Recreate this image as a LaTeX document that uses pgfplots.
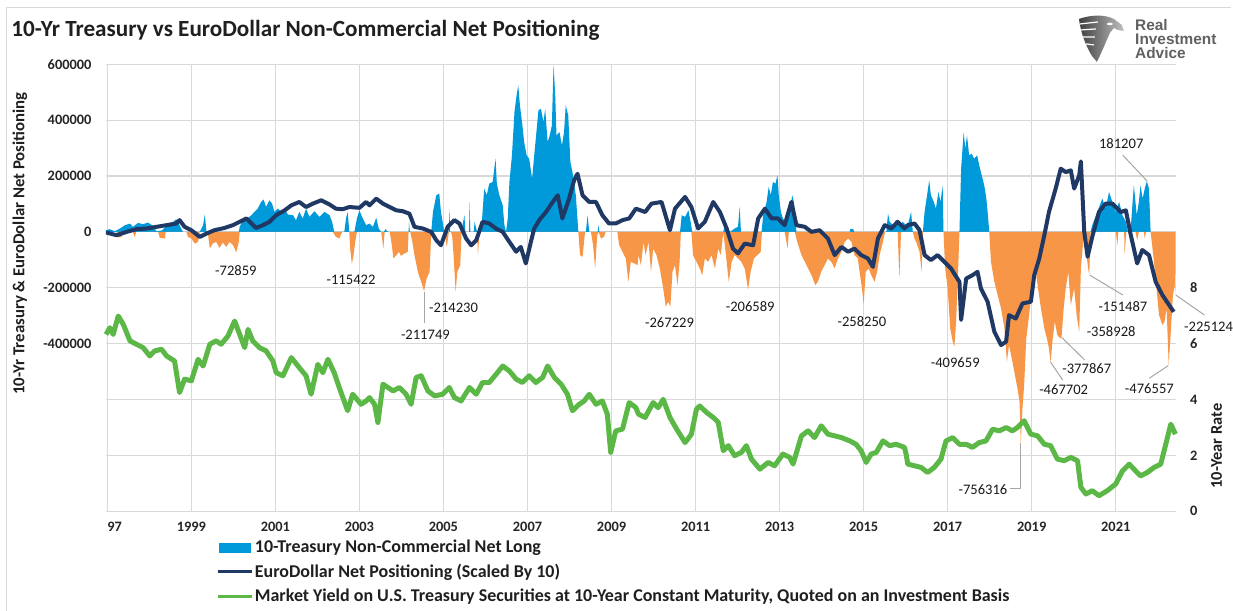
\documentclass[border=0pt]{standalone}
\usepackage{fontspec}
\setmainfont{Carlito}
\newfontfamily\logofont{Liberation Sans}
\usepackage{pgfplots}
\pgfplotsset{compat=1.18}
\definecolor{tblue}{RGB}{0,153,218}
\definecolor{torange}{RGB}{247,150,70}
\definecolor{navy}{RGB}{31,56,100}
\definecolor{ygreen}{RGB}{92,184,70}
\definecolor{gridc}{RGB}{217,217,217}
\definecolor{lead}{RGB}{166,166,166}
\begin{document}
\begin{tikzpicture}
\begin{scope}[x=0.5pt,y=-0.5pt]
\path[use as bounding box, fill=white] (0,0) rectangle (1233,612);
\draw[gridc, line width=0.5pt] (7,612) -- (7,8) -- (1233,8);
\node[anchor=west, font=\bfseries\fontsize{11.6pt}{13pt}\selectfont, text=black!88, inner sep=0pt] at (11,30) {10-Yr Treasury vs EuroDollar Non-Commercial Net Positioning};
% logo
\shade[left color=black!75, right color=black!25] (1081,19) .. controls (1092,15) and (1106,14) .. (1116,19) -- (1124,25) -- (1126,31) -- (1120,30) -- (1116,28) -- (1112,33) .. controls (1108,42) and (1104,52) .. (1099,62) -- (1094,56) .. controls (1088,46) and (1083,34) .. cycle;
\draw[white, line width=0.6pt] (1082,24) -- (1100,22) (1083,30) -- (1098,29) (1085,37) -- (1097,37) (1088,44) -- (1096,45);
\fill[white] (1112,24) ellipse (3 and 1.3);
\node[anchor=west, inner sep=0pt, font=\logofont\bfseries\fontsize{7.7pt}{7pt}\selectfont, text=black!62, align=left] at (1137,25) {Real};
\node[anchor=west, inner sep=0pt, font=\logofont\bfseries\fontsize{7.7pt}{7pt}\selectfont, text=black!62, align=left] at (1137,39.5) {Investment};
\node[anchor=west, inner sep=0pt, font=\logofont\bfseries\fontsize{7.7pt}{7pt}\selectfont, text=black!62, align=left] at (1137,53) {Advice};
% axis titles
\node[rotate=90, inner sep=0pt, font=\bfseries\fontsize{8.4pt}{10pt}\selectfont, text=black!88] at (20,244) {10-Yr Treasury \& EuroDollar Net Positioning};
\node[rotate=90, inner sep=0pt, font=\bfseries\fontsize{8.2pt}{10pt}\selectfont, text=black!88] at (1219,447) {10-Year Rate};
\end{scope}

\begin{axis}[at={(53pt,-256.15pt)}, anchor=south west, scale only axis,
  width=536pt, height=224pt,
  xmin=1996.964, xmax=2022.428, ymin=-1000000, ymax=600000,
  axis line style={draw=none}, tick style={draw=none},
  xtick={1997,1999,...,2021},
  xticklabels={\phantom{19}97,1999,2001,2003,2005,2007,2009,2011,2013,2015,2017,2019,2021},
  ytick={-1000000,-800000,-600000,-400000,-200000,0,200000,400000,600000},
  yticklabels={{},{},{},-400000,-200000,0,200000,400000,600000},
  scaled y ticks=false,
  grid=major, major grid style={gridc, line width=0.55pt},
  ticklabel style={font=\bfseries\fontsize{7.2pt}{8pt}\selectfont, text=black!85},
  xticklabel style={anchor=north, inner sep=0pt, yshift=-5pt},
  yticklabel style={anchor=east, inner sep=0pt, xshift=-7pt},
  clip=false, line join=round]

\addplot[fill=tblue, draw=none] coordinates {
(1996.965,0)(1996.97,6000)(1997.06,9500)(1997.18,2400)(1997.30,11900)(1997.42,23800)(1997.54,29800)(1997.61,17900)(1997.73,32100)(1997.85,27400)(1997.97,33300)(1998.09,21400)(1998.17,2400)(1998.30,5000)(1998.41,21400)(1998.52,29800)(1998.64,45200)(1998.72,23800)(1998.80,0)
(1999.20,0)(1999.28,23800)(1999.32,61900)(1999.36,0)
(2000.13,0)(2000.15,17900)(2000.23,41700)(2000.35,50000)(2000.43,59500)(2000.50,71400)(2000.58,83300)(2000.66,107100)(2000.72,115500)(2000.78,89300)(2000.86,113100)(2000.92,101200)(2000.98,71400)(2001.06,83300)(2001.14,71400)(2001.22,81000)(2001.30,61900)(2001.42,59500)(2001.49,41700)(2001.57,71400)(2001.65,47600)(2001.73,83300)(2001.81,53600)(2001.93,73800)(2002.05,53600)(2002.17,71400)(2002.29,59500)(2002.35,35700)(2002.40,0)
(2002.64,0)(2002.68,47600)(2002.72,71400)(2002.76,0)
(2002.88,0)(2002.94,47600)(2003.00,77400)(2003.08,47600)(2003.16,23800)(2003.24,29800)(2003.32,17900)(2003.40,50000)(2003.46,11900)(2003.52,0)
(2003.58,0)(2003.62,9500)(2003.68,0)
(2004.17,0)(2004.18,35700)(2004.20,0)
(2004.71,0)(2004.75,71400)(2004.83,131000)(2004.90,136900)(2004.94,71400)(2005.02,0)
(2005.13,0)(2005.14,83300)(2005.16,0)
(2005.43,0)(2005.46,29800)(2005.50,59500)(2005.52,0)
(2005.61,0)(2005.62,107100)(2005.64,0)
(2005.72,0)(2005.74,35700)(2005.80,0)
(2005.90,0)(2005.93,71400)(2005.97,154800)(2006.03,131000)(2006.09,172600)(2006.17,178600)(2006.24,261900)(2006.27,172600)(2006.33,131000)(2006.41,95200)(2006.45,23800)(2006.49,0)(2006.53,47600)(2006.57,178600)(2006.63,273800)(2006.69,428600)(2006.74,488100)(2006.78,523800)(2006.82,452400)(2006.87,392900)(2006.92,321400)(2006.98,273800)(2007.04,261900)(2007.11,190500)(2007.16,273800)(2007.22,369100)(2007.26,434500)(2007.32,440500)(2007.38,392900)(2007.42,440500)(2007.48,321400)(2007.53,345200)(2007.58,381000)(2007.62,597000)(2007.66,488100)(2007.69,345200)(2007.76,357100)(2007.82,309500)(2007.87,357100)(2007.91,452400)(2007.97,416700)(2008.02,250000)(2008.07,214300)(2008.15,131000)(2008.21,0)
(2008.39,0)(2008.43,59500)(2008.47,0)
(2008.67,0)(2008.69,23800)(2008.71,0)
(2010.63,0)(2010.67,59500)(2010.75,53600)(2010.83,77400)(2010.89,29800)(2010.92,0)
(2011.66,0)(2011.70,29800)(2011.82,0)(2011.93,11900)(2012.01,17900)(2012.05,89300)(2012.08,0)
(2012.57,0)(2012.61,59500)(2012.69,107100)(2012.74,160700)(2012.79,131000)(2012.84,178600)(2012.90,172600)(2012.95,202400)(2012.98,131000)(2013.03,71400)(2013.08,47600)(2013.16,35700)(2013.24,71400)(2013.30,131000)(2013.34,107100)(2013.40,0)
(2014.67,0)(2014.68,9500)(2014.75,9500)(2014.78,0)
(2015.54,0)(2015.58,65500)(2015.62,35700)(2015.70,23800)(2015.77,41700)(2015.85,23800)(2015.93,35700)(2016.01,23800)(2016.05,23800)(2016.13,71400)(2016.17,0)
(2016.41,0)(2016.45,71400)(2016.51,131000)(2016.56,184500)(2016.60,131000)(2016.67,107100)(2016.72,83300)(2016.78,142900)(2016.83,107100)(2016.88,166700)(2016.90,0)
(2017.28,0)(2017.32,226200)(2017.38,357100)(2017.42,297600)(2017.46,345200)(2017.51,273800)(2017.57,279800)(2017.63,261900)(2017.70,273800)(2017.75,238100)(2017.81,202400)(2017.87,166700)(2017.92,119000)(2017.95,71400)(2017.99,0)
(2020.40,0)(2020.44,23800)(2020.56,71400)(2020.68,119000)(2020.76,83300)(2020.84,142900)(2020.92,107100)(2021.00,71400)(2021.08,107100)(2021.16,59500)(2021.24,35700)(2021.29,0)
(2021.35,0)(2021.43,166700)(2021.50,59500)(2021.55,107100)(2021.59,166700)(2021.64,119000)(2021.69,154800)(2021.74,181207)(2021.79,154800)(2021.83,0)
} \closedcycle;

\addplot[fill=torange, draw=none] coordinates {
(1997.22,0)(1997.26,-20200)(1997.34,-17900)(1997.38,0)
(1997.61,0)(1997.65,-17900)(1997.69,0)
(1998.21,0)(1998.25,-21400)(1998.37,-23800)(1998.39,0)
(1998.88,0)(1998.92,-17900)(1999.00,-23800)(1999.08,-41700)(1999.16,-35700)(1999.20,0)
(1999.38,0)(1999.40,-11900)(1999.44,-59500)(1999.51,-41700)(1999.59,-35700)(1999.67,-57100)(1999.75,-38100)(1999.83,-53600)(1999.91,-35700)(1999.99,-47600)(2000.07,-72859)(2000.13,-35700)(2000.15,0)
(2002.37,0)(2002.44,-17900)(2002.52,-23800)(2002.59,0)
(2002.76,0)(2002.78,-59500)(2002.82,-115422)(2002.86,-83300)(2002.90,-35700)(2002.94,0)
(2003.52,0)(2003.54,-23800)(2003.57,-59500)(2003.60,0)
(2003.72,0)(2003.76,-35700)(2003.81,-95200)(2003.88,-83300)(2003.94,-71400)(2003.99,-85700)(2004.07,-77400)(2004.15,-71400)(2004.17,0)
(2004.21,0)(2004.26,-35700)(2004.31,-83300)(2004.39,-142900)(2004.47,-178600)(2004.54,-211749)(2004.60,-166700)(2004.67,-142900)(2004.71,0)
(2005.02,0)(2005.08,-53600)(2005.13,0)
(2005.18,0)(2005.21,-17900)(2005.24,-83300)(2005.29,-214230)(2005.33,-142900)(2005.40,-119000)(2005.43,0)
(2005.80,0)(2005.82,-83300)(2005.86,0)
(2008.21,0)(2008.25,-83300)(2008.31,-89300)(2008.37,0)
(2008.51,0)(2008.56,-47600)(2008.61,-131000)(2008.66,-11900)(2008.69,0)(2008.75,-23800)(2008.82,-17900)(2008.86,0)
(2009.14,0)(2009.18,-47600)(2009.26,-71400)(2009.34,-95200)(2009.40,-178600)(2009.46,-107100)(2009.54,-113100)(2009.62,-119000)(2009.64,-83300)(2009.70,-119000)(2009.76,-35700)(2009.81,-83300)(2009.88,-35700)(2009.94,-142900)(2009.99,-59500)(2010.07,-83300)(2010.15,-131000)(2010.23,-202400)(2010.29,-267229)(2010.35,-250000)(2010.40,-267800)(2010.45,-142900)(2010.51,-119000)(2010.57,-190500)(2010.62,-107100)(2010.65,0)
(2010.90,0)(2010.94,-83300)(2011.02,-107100)(2011.10,-131000)(2011.16,-154800)(2011.22,-95200)(2011.30,-107100)(2011.38,-83300)(2011.46,-131000)(2011.54,-59500)(2011.60,-83300)(2011.66,0)(2011.74,-107100)(2011.79,-178600)(2011.86,-107100)(2011.93,-83300)(2012.01,-95200)(2012.09,-107100)(2012.17,-131000)(2012.25,-206589)(2012.31,-142900)(2012.39,-95200)(2012.47,-83300)(2012.55,-71400)(2012.58,0)
(2013.12,0)(2013.19,-59500)(2013.22,0)
(2013.36,0)(2013.42,-35700)(2013.52,-83300)(2013.60,-107100)(2013.68,-131000)(2013.76,-154800)(2013.85,-190500)(2013.91,-178600)(2013.99,-142900)(2014.07,-119000)(2014.15,-95200)(2014.23,-107100)(2014.31,-131000)(2014.39,-95200)(2014.47,-71400)(2014.55,-35700)(2014.63,-23800)(2014.71,-35700)(2014.78,-83300)(2014.86,-95200)(2014.96,-202400)(2015.00,-258250)(2015.05,-142900)(2015.12,-131000)(2015.18,-154800)(2015.26,-178600)(2015.32,-142900)(2015.38,-83300)(2015.46,-35700)(2015.51,0)
(2015.81,0)(2015.85,-166700)(2015.89,0)
(2016.17,0)(2016.21,-23800)(2016.25,-35700)(2016.33,-71400)(2016.38,-142900)(2016.41,0)
(2016.90,0)(2016.94,-131000)(2017.00,-202400)(2017.06,-345200)(2017.12,-392900)(2017.16,-409659)(2017.20,-321400)(2017.25,-131000)(2017.28,0)
(2017.99,0)(2018.03,-107100)(2018.11,-178600)(2018.19,-226200)(2018.27,-273800)(2018.35,-345200)(2018.41,-464300)(2018.46,-404800)(2018.54,-464300)(2018.60,-511900)(2018.66,-559500)(2018.71,-607100)(2018.74,-756316)(2018.78,-631000)(2018.82,-547600)(2018.87,-381000)(2018.92,-321400)(2018.98,-238100)(2019.04,-202400)(2019.10,-142900)(2019.15,-202400)(2019.22,-273800)(2019.30,-345200)(2019.36,-381000)(2019.41,-416700)(2019.45,-467702)(2019.50,-381000)(2019.55,-321400)(2019.61,-369000)(2019.68,-381000)(2019.71,-377867)(2019.76,-273800)(2019.81,-202400)(2019.87,-142900)(2019.93,-261900)(2020.01,-202400)(2020.07,-297600)(2020.13,-358928)(2020.17,-131000)(2020.21,-59500)(2020.25,0)(2020.29,-59500)(2020.34,-131000)(2020.37,-151487)(2020.40,0)
(2021.00,0)(2021.04,-47600)(2021.06,0)
(2021.20,0)(2021.21,-83300)(2021.25,0)
(2021.47,0)(2021.51,-29800)(2021.55,0)
(2021.67,0)(2021.69,-23800)(2021.72,0)
(2021.83,0)(2021.91,-107100)(2021.97,-202400)(2022.03,-297600)(2022.11,-333300)(2022.16,-321400)(2022.21,-273800)(2022.26,-476557)(2022.31,-357100)(2022.36,-226200)(2022.41,-190500)(2022.42,-225124)(2022.425,0)
} \closedcycle;

\addplot[navy, line width=2pt, line join=round] coordinates {
(1996.97,-2000)(1997.22,-12000)(1997.46,0)(1997.69,9500)(1997.93,12000)(1998.17,18000)(1998.41,24000)(1998.64,30000)(1998.72,42000)(1998.84,18000)(1999.00,6000)(1999.20,-18000)(1999.36,-6000)(1999.55,6000)(1999.79,14000)(1999.99,24000)(2000.15,36000)(2000.31,48000)(2000.43,30000)(2000.54,14000)(2000.70,24000)(2000.86,36000)(2001.02,60000)(2001.22,77000)(2001.38,95000)(2001.57,107000)(2001.73,89000)(2001.89,101000)(2002.09,113000)(2002.29,98000)(2002.44,83000)(2002.60,81000)(2002.76,89000)(2003.00,86000)(2003.16,107000)(2003.24,95000)(2003.40,119000)(2003.56,101000)(2003.72,89000)(2003.88,77000)(2004.03,74000)(2004.19,65000)(2004.31,18000)(2004.51,12000)(2004.71,0)(2004.83,-30000)(2004.94,-48000)(2005.10,18000)(2005.26,42000)(2005.38,30000)(2005.54,-24000)(2005.66,-48000)(2005.78,-30000)(2005.93,36000)(2006.09,30000)(2006.25,12000)(2006.41,0)(2006.57,-36000)(2006.73,-71000)(2006.84,-54000)(2006.96,-113000)(2007.08,-36000)(2007.16,12000)(2007.28,42000)(2007.44,71000)(2007.60,107000)(2007.72,131000)(2007.83,48000)(2007.99,119000)(2008.11,185000)(2008.19,208000)(2008.31,131000)(2008.47,107000)(2008.63,107000)(2008.78,60000)(2008.94,30000)(2009.10,30000)(2009.26,42000)(2009.42,48000)(2009.58,83000)(2009.80,71000)(2009.95,101000)(2010.19,107000)(2010.39,6000)(2010.51,83000)(2010.75,125000)(2010.90,89000)(2011.06,12000)(2011.22,36000)(2011.42,107000)(2011.58,71000)(2011.74,12000)(2011.89,-60000)(2012.01,-77000)(2012.17,-42000)(2012.37,-48000)(2012.49,48000)(2012.65,83000)(2012.81,48000)(2012.96,48000)(2013.12,24000)(2013.28,107000)(2013.40,24000)(2013.60,18000)(2013.76,0)(2013.95,6000)(2014.15,-24000)(2014.31,-83000)(2014.47,-54000)(2014.63,-71000)(2014.78,-60000)(2014.94,-83000)(2015.10,-95000)(2015.22,-125000)(2015.34,-24000)(2015.50,24000)(2015.66,12000)(2015.81,36000)(2015.97,12000)(2016.05,24000)(2016.21,30000)(2016.33,6000)(2016.45,-83000)(2016.60,-101000)(2016.76,-83000)(2016.92,-107000)(2017.08,-131000)(2017.28,-179000)(2017.32,-315000)(2017.44,-167000)(2017.59,-155000)(2017.71,-143000)(2017.79,-202000)(2017.95,-250000)(2018.11,-357000)(2018.27,-405000)(2018.39,-393000)(2018.46,-298000)(2018.62,-310000)(2018.78,-256000)(2018.98,-250000)(2019.06,-155000)(2019.18,-95000)(2019.30,-12000)(2019.41,71000)(2019.57,155000)(2019.69,226000)(2019.81,214000)(2019.93,220000)(2020.01,155000)(2020.13,202000)(2020.17,252000)(2020.25,0)(2020.33,-89000)(2020.44,-18000)(2020.60,71000)(2020.76,101000)(2020.92,101000)(2021.12,71000)(2021.24,77000)(2021.35,-6000)(2021.51,-113000)(2021.63,-65000)(2021.79,-83000)(2021.95,-179000)(2022.11,-226000)(2022.27,-262000)(2022.38,-286000)
};

% data labels
\begin{scope}[every node/.style={font=\fontsize{7.3pt}{8pt}\selectfont, text=black!90, inner sep=0pt}]
\node at (axis cs:2000.06,-136800) {-72859};
\node at (axis cs:2002.80,-172500) {-115422};
\node at (axis cs:2005.24,-272500) {-214230};
\node at (axis cs:2004.57,-368900) {-211749};
\node at (axis cs:2010.38,-326100) {-267229};
\node at (axis cs:2012.30,-268900) {-206589};
\node at (axis cs:2014.96,-322500) {-258250};
\node at (axis cs:2017.18,-468900) {-409659};
\node at (axis cs:2017.84,-922500) {-756316};
\node at (axis cs:2019.76,-565400) {-467702};
\node at (axis cs:2020.31,-490400) {-377867};
\node at (axis cs:2020.89,-358200) {-358928};
\node at (axis cs:2021.17,-268900) {-151487};
\node at (axis cs:2021.13,316800) {181207};
\node at (axis cs:2021.80,-561800) {-476557};
\node at (axis cs:2023.21,-340400) {-225124};
\end{scope}
\begin{scope}[lead, line width=0.5pt]
\draw (axis cs:2004.54,-215400) -- (axis cs:2004.54,-326100);
\draw (axis cs:2018.48,-918900) -- (axis cs:2018.74,-918900) -- (axis cs:2018.74,-754600);
\draw (axis cs:2019.45,-466400) -- (axis cs:2019.74,-530700);
\draw (axis cs:2019.72,-378600) -- (axis cs:2020.26,-458200);
\draw (axis cs:2020.38,-154600) -- (axis cs:2021.17,-226100);
\draw (axis cs:2021.17,273900) -- (axis cs:2021.75,181100);
\draw (axis cs:2021.80,-523600) -- (axis cs:2022.25,-478600);
\draw (axis cs:2022.43,-226100) -- (axis cs:2023.11,-297500);
\end{scope}
\end{axis}

\begin{axis}[at={(53pt,-256.15pt)}, anchor=south west, scale only axis,
  width=536pt, height=224pt,
  xmin=1996.964, xmax=2022.428, ymin=0, ymax=16,
  axis x line=none, axis y line*=right, axis line style={draw=none}, tick style={draw=none},
  ytick={0,2,4,6,8}, yticklabels={0,2,4,6,8},
  yticklabel style={font=\bfseries\fontsize{7.2pt}{8pt}\selectfont, text=black!85, anchor=west, inner sep=0pt, xshift=7pt},
  clip=false]
\addplot[ygreen, line width=2.5pt, line join=round] coordinates {
(1996.97,6.33)(1997.06,6.57)(1997.14,6.33)(1997.26,6.99)(1997.38,6.69)(1997.54,6.10)(1997.69,5.98)(1997.85,5.86)(1998.01,5.56)(1998.13,5.74)(1998.29,5.80)(1998.41,5.56)(1998.60,5.38)(1998.72,4.25)(1998.84,4.73)(1999.00,4.67)(1999.16,5.44)(1999.28,5.20)(1999.44,5.98)(1999.59,6.10)(1999.71,5.98)(1999.87,6.27)(2000.03,6.81)(2000.15,6.33)(2000.27,5.86)(2000.35,6.51)(2000.46,6.10)(2000.62,5.86)(2000.78,5.74)(2000.94,5.38)(2001.02,4.96)(2001.18,4.85)(2001.38,5.50)(2001.57,5.14)(2001.73,4.85)(2001.85,4.19)(2002.01,5.26)(2002.13,4.96)(2002.25,5.44)(2002.40,4.96)(2002.52,4.43)(2002.72,3.60)(2002.84,4.19)(2003.04,3.83)(2003.16,3.95)(2003.24,4.07)(2003.36,3.83)(2003.44,3.18)(2003.56,4.55)(2003.68,4.43)(2003.80,4.31)(2003.95,4.43)(2004.11,4.19)(2004.23,3.83)(2004.35,4.79)(2004.47,4.85)(2004.63,4.31)(2004.79,4.13)(2004.98,4.19)(2005.14,4.43)(2005.26,4.07)(2005.42,3.95)(2005.62,4.43)(2005.78,4.19)(2005.93,4.61)(2006.09,4.61)(2006.25,4.90)(2006.41,5.20)(2006.57,5.02)(2006.73,4.73)(2006.88,4.61)(2007.04,4.85)(2007.20,4.61)(2007.36,4.79)(2007.48,5.20)(2007.64,4.79)(2007.80,4.55)(2007.95,4.19)(2008.07,3.60)(2008.23,3.83)(2008.35,3.95)(2008.47,4.19)(2008.63,3.83)(2008.78,3.95)(2008.90,3.48)(2008.98,2.11)(2009.10,2.88)(2009.26,2.94)(2009.42,3.89)(2009.58,3.71)(2009.64,3.48)(2009.80,3.36)(2009.99,3.89)(2010.11,3.71)(2010.23,4.01)(2010.39,3.36)(2010.55,2.94)(2010.75,2.46)(2010.90,2.76)(2011.02,3.65)(2011.10,3.77)(2011.26,3.54)(2011.42,3.36)(2011.54,3.18)(2011.66,2.17)(2011.78,2.35)(2011.93,1.99)(2012.09,2.11)(2012.21,2.35)(2012.33,1.87)(2012.53,1.51)(2012.73,1.75)(2012.88,1.63)(2013.08,2.05)(2013.24,1.93)(2013.32,1.69)(2013.52,2.70)(2013.68,2.88)(2013.83,2.64)(2013.99,3.06)(2014.15,2.76)(2014.31,2.70)(2014.47,2.64)(2014.67,2.52)(2014.82,2.40)(2014.94,2.17)(2015.06,1.75)(2015.18,2.05)(2015.30,2.11)(2015.46,2.52)(2015.62,2.35)(2015.77,2.40)(2015.97,2.29)(2016.01,2.05)(2016.05,1.69)(2016.21,1.63)(2016.37,1.57)(2016.52,1.39)(2016.68,1.57)(2016.84,1.87)(2016.96,2.52)(2017.12,2.64)(2017.28,2.40)(2017.44,2.40)(2017.59,2.29)(2017.75,2.46)(2017.91,2.52)(2018.07,2.94)(2018.23,2.88)(2018.39,3.00)(2018.54,2.88)(2018.66,3.00)(2018.82,3.24)(2018.98,2.76)(2019.14,2.70)(2019.30,2.40)(2019.45,2.35)(2019.61,1.87)(2019.77,1.81)(2019.93,1.93)(2020.09,1.81)(2020.17,0.86)(2020.29,0.62)(2020.44,0.74)(2020.60,0.56)(2020.80,0.74)(2021.00,0.98)(2021.16,1.45)(2021.32,1.69)(2021.47,1.45)(2021.59,1.27)(2021.75,1.39)(2021.91,1.57)(2022.07,1.69)(2022.19,2.40)(2022.31,3.12)(2022.42,2.76)
};
\end{axis}

\begin{scope}[x=0.5pt,y=-0.5pt]
\fill[tblue] (219,544) rectangle (251,554);
\draw[navy, line width=1.5pt] (218,573) -- (252,573);
\draw[ygreen, line width=1.5pt] (218,598) -- (252,598);
\begin{scope}[every node/.style={anchor=west, inner sep=0pt, font=\bfseries\fontsize{9pt}{10pt}\selectfont, text=black!88}]
\node at (255,549) {10-Treasury Non-Commercial Net Long};
\node at (255,573) {EuroDollar Net Positioning (Scaled By 10)};
\node at (255,598) {Market Yield on U.S. Treasury Securities at 10-Year Constant Maturity, Quoted on an Investment Basis};
\end{scope}
\end{scope}
\end{tikzpicture}
\end{document}
